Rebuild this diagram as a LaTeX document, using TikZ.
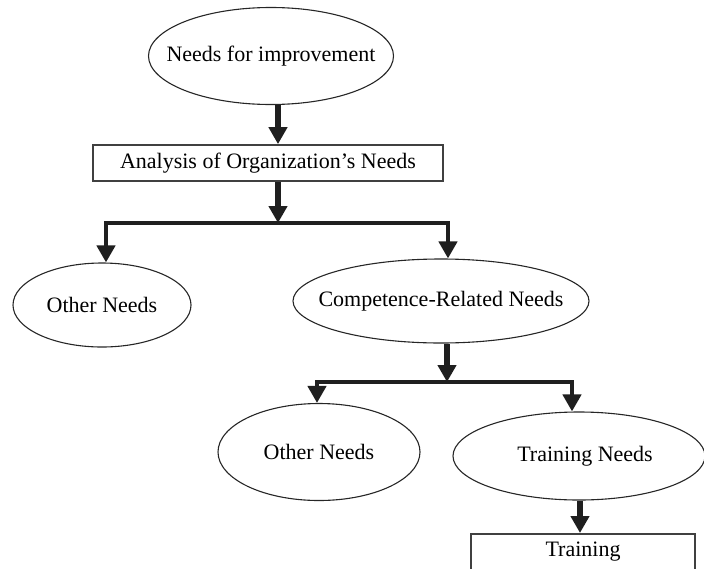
\documentclass[tikz,border=0pt]{standalone}
\usepackage{fontspec}
\setmainfont{Liberation Serif}
\usetikzlibrary{shapes.geometric,arrows.meta}

\begin{document}
\begin{tikzpicture}[x=1pt,y=-1pt,
  font=\fontsize{22}{26}\selectfont,
  % ellipse whose size is set only by its minimum width/height
  oval/.style={ellipse, draw=black!85, line width=1.1pt, inner sep=0pt,
    execute at begin node={\hbox to 0pt\bgroup\hss},
    execute at end node={\hss\egroup}},
  box/.style={rectangle, draw=black!75, line width=1.7pt, inner sep=0pt},
  conn/.style={draw=black!88, line width=5.4pt, line join=miter,
    -{Triangle[width=18pt,length=17pt]}},
  fork/.style={draw=black!88, line width=4.6pt, line join=miter,
    {Triangle[width=18pt,length=17pt]}-{Triangle[width=18pt,length=17pt]}}]

\useasboundingbox (0,0) rectangle (704,568);
\clip (0,0) rectangle (704,568);

% nodes
\node[oval, minimum width=245pt, minimum height=97pt] (need) at (271,56) {Needs for improvement};
\node[box, minimum width=350pt, minimum height=36pt] (anal) at (268,163) {Analysis of Organization’s Needs};
\node[oval, minimum width=178pt, minimum height=84pt] (oth1) at (102,305) {Other Needs};
\node[oval, minimum width=296pt, minimum height=84pt] (comp) at (441,301) {Competence-Related Needs};
\node[oval, minimum width=202pt, minimum height=97pt] (oth2) at (319,452) {Other Needs};
\node[oval, minimum width=252pt, minimum height=88pt] (tneed) at (579,456) {\hspace*{12pt}Training Needs};
\node[box, anchor=north, minimum width=224pt, inner ysep=5pt,
      text height=18pt, text depth=40pt] (train) at (583,533) {Training};

% branching points and connector columns
\coordinate (c1) at (278,0);
\coordinate (bar1) at (278,223);
\coordinate (l1) at (106,0);
\coordinate (r1) at (448,0);
\coordinate (c2) at (447,0);
\coordinate (bar2) at (447,382);
\coordinate (l2) at (317,0);
\coordinate (r2) at (572,0);
\coordinate (c3) at (580,0);

% connectors
\draw[conn] (c1 |- need.south) -- (c1 |- anal.north);
\draw[conn] (c1 |- anal.south) -- (bar1);
\draw[fork] (l1 |- oth1.north) -- (l1 |- bar1) -- (r1 |- bar1) -- (r1 |- comp.north);

\draw[conn] (c2 |- comp.south) -- (bar2);
\draw[fork] (l2 |- oth2.north) -- (l2 |- bar2) -- (r2 |- bar2) -- (r2 |- tneed.north);

\draw[conn] (c3 |- tneed.south) -- (c3 |- train.north);
\end{tikzpicture}
\end{document}
